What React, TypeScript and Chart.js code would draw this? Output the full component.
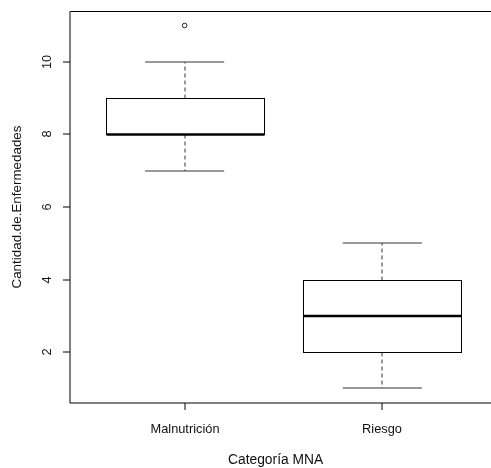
import React, { useEffect, useRef } from "react";
import { Chart, registerables } from "chart.js";

Chart.register(...registerables);

// ---- data ----
const categories = ["Malnutrición", "Riesgo"];
const whiskerLow = [7, 1];
const q1 = [8, 2];
const median = [8, 3];
const q3 = [9, 4];
const whiskerHigh = [10, 5];
const outlierCategory = [1];
const outlierValue = [11];
const yTicks = [2, 4, 6, 8, 10];
const xTitle = "Categoría MNA";
const yTitle = "Cantidad.de.Enfermedades";

// ---- style constants ----
const CANVAS_W = 520;
const CANVAS_H = 468;
const BOX_HALF = 0.4;
const CAP_HALF = 0.2;
const FONT = "'Liberation Sans', Arial, Helvetica, sans-serif";

const rBoxPlugin = {
  id: "rBoxPlot",
  beforeDatasetsDraw(chart: any) {
    const { ctx, chartArea: a, scales } = chart;
    const x = scales.x;
    const y = scales.y;
    const cr = (v: number) => Math.round(v) + 0.5;
    ctx.save();

    // boxes
    categories.forEach((_c, i) => {
      const pos = i + 1;
      const xc = Math.round(x.getPixelForValue(pos));
      const xl = cr(x.getPixelForValue(pos - BOX_HALF));
      const xr = cr(x.getPixelForValue(pos + BOX_HALF));
      const cl = x.getPixelForValue(pos - CAP_HALF);
      const crr = x.getPixelForValue(pos + CAP_HALF);
      const yLo = Math.round(y.getPixelForValue(whiskerLow[i]));
      const yQ1 = cr(y.getPixelForValue(q1[i]));
      const yMed = y.getPixelForValue(median[i]);
      const yQ3 = cr(y.getPixelForValue(q3[i]));
      const yHi = Math.round(y.getPixelForValue(whiskerHigh[i]));

      // whiskers (dashed)
      ctx.strokeStyle = "#333";
      ctx.lineWidth = 1;
      ctx.setLineDash([4, 3]);
      ctx.beginPath();
      ctx.moveTo(xc, yQ1);
      ctx.lineTo(xc, yLo);
      ctx.moveTo(xc, yQ3);
      ctx.lineTo(xc, yHi);
      ctx.stroke();
      ctx.setLineDash([]);

      // caps
      ctx.beginPath();
      ctx.moveTo(cl, yLo);
      ctx.lineTo(crr, yLo);
      ctx.moveTo(cl, yHi);
      ctx.lineTo(crr, yHi);
      ctx.stroke();

      // box
      ctx.fillStyle = "#fff";
      ctx.fillRect(xl, yQ3, xr - xl, yQ1 - yQ3);
      ctx.strokeStyle = "#000";
      ctx.strokeRect(xl, yQ3, xr - xl, yQ1 - yQ3);

      // median
      ctx.lineWidth = 2.5;
      ctx.beginPath();
      ctx.moveTo(xl, yMed);
      ctx.lineTo(xr, yMed);
      ctx.stroke();
      ctx.lineWidth = 1;
    });

    // frame
    ctx.strokeStyle = "#000";
    ctx.lineWidth = 1;
    ctx.beginPath();
    ctx.moveTo(cr(a.left), cr(a.top));
    ctx.lineTo(cr(a.right), cr(a.top));
    ctx.lineTo(cr(a.right), a.bottom);
    ctx.stroke();
    ctx.beginPath();
    ctx.moveTo(a.left, a.top);
    ctx.lineTo(a.left, a.bottom);
    ctx.lineTo(a.right, a.bottom);
    ctx.stroke();

    // y ticks + labels
    ctx.fillStyle = "#111";
    ctx.font = `12.8px ${FONT}`;
    ctx.textAlign = "center";
    ctx.textBaseline = "middle";
    yTicks.forEach((t) => {
      const py = Math.round(y.getPixelForValue(t));
      ctx.beginPath();
      ctx.moveTo(a.left - 7, py);
      ctx.lineTo(a.left, py);
      ctx.stroke();
      ctx.save();
      ctx.translate(a.left - 23, py);
      ctx.rotate(-Math.PI / 2);
      ctx.fillText(String(t), 0, 0);
      ctx.restore();
    });

    // x ticks + labels
    categories.forEach((c, i) => {
      const px = Math.round(x.getPixelForValue(i + 1));
      ctx.beginPath();
      ctx.moveTo(px, a.bottom);
      ctx.lineTo(px, a.bottom + 7);
      ctx.stroke();
      ctx.fillText(c, px, a.bottom + 26);
    });

    // axis titles
    ctx.font = `13.8px ${FONT}`;
    ctx.fillText(xTitle, x.getPixelForValue(1.46), a.bottom + 57);
    ctx.font = `13.4px ${FONT}`;
    ctx.save();
    ctx.translate(17, (a.top + a.bottom) / 2);
    ctx.rotate(-Math.PI / 2);
    ctx.fillText(yTitle, 0, 0);
    ctx.restore();

    ctx.restore();
  },
};

export default function App() {
  const ref = useRef<HTMLCanvasElement | null>(null);

  useEffect(() => {
    if (!ref.current) return;
    const chart = new Chart(ref.current, {
      type: "scatter",
      data: {
        datasets: [
          {
            data: outlierCategory.map((c, i) => ({ x: c, y: outlierValue[i] })),
            pointStyle: "circle",
            pointRadius: 2.3,
            borderColor: "#222",
            backgroundColor: "rgba(0,0,0,0)",
            borderWidth: 1,
          },
        ],
      },
      options: {
        responsive: false,
        animation: false,
        devicePixelRatio: 1,
        layout: { padding: { left: 70, top: 11, right: CANVAS_W - 497, bottom: CANVAS_H - 403 } },
        plugins: { legend: { display: false }, tooltip: { enabled: false } },
        scales: {
          x: { type: "linear", min: 0.42, max: 2.58, display: false },
          y: { type: "linear", min: 0.6, max: 11.4, display: false },
        },
      },
      plugins: [rBoxPlugin],
    });
    return () => chart.destroy();
  }, []);

  return (
    <div
      style={{
        position: "fixed",
        left: 0,
        top: 0,
        width: 491,
        height: 468,
        overflow: "hidden",
        background: "#fff",
      }}
    >
      <canvas ref={ref} width={CANVAS_W} height={CANVAS_H} style={{ display: "block" }} />
    </div>
  );
}
